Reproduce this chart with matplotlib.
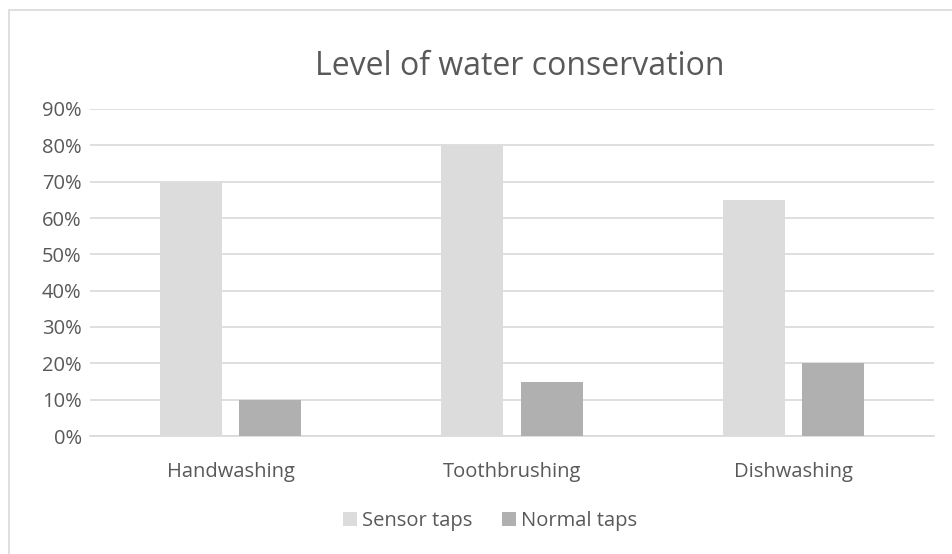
import matplotlib
matplotlib.use("Agg")
import matplotlib.pyplot as plt
from matplotlib.patches import Rectangle
from matplotlib.ticker import PercentFormatter
import numpy as np

categories = ["Handwashing", "Toothbrushing", "Dishwashing"]
sensor_taps = [0.70, 0.80, 0.65]
normal_taps = [0.10, 0.15, 0.20]
y_ticks = [0.0, 0.1, 0.2, 0.3, 0.4, 0.5, 0.6, 0.7, 0.8, 0.9]

plt.rcParams['font.family'] = ['Open Sans', 'DejaVu Sans']
text_color = '#595959'
grid_color = '#D9D9D9'

fig = plt.figure(figsize=(9.52, 5.54), dpi=100)
fig.patch.set_facecolor('white')

# outer chart frame
fig.add_artist(Rectangle((9 / 952, -0.02), 1.1, (554 - 10) / 554 + 0.02,
                         transform=fig.transFigure, fill=False,
                         edgecolor='#D9D9D9', linewidth=1.2))

ax = fig.add_axes([90 / 952, 118 / 554, (934 - 90) / 952, (445 - 118) / 554])

x = np.arange(len(categories))
width = 0.22
offset = 0.141
ax.bar(x - offset, sensor_taps, width, color='#DCDCDC', label='Sensor taps', zorder=3)
ax.bar(x + offset, normal_taps, width, color='#B0B0B0', label='Normal taps', zorder=3)

ax.set_xlim(-0.5, len(categories) - 0.5)
ax.set_ylim(0, 0.9)
ax.set_yticks(y_ticks)
ax.yaxis.set_major_formatter(PercentFormatter(1.0, decimals=0))
ax.set_xticks(x)
ax.set_xticklabels(categories)

ax.grid(axis='y', color=grid_color, linewidth=1.2, zorder=0)
for side in ['top', 'right', 'left']:
    ax.spines[side].set_visible(False)
ax.spines['bottom'].set_color(grid_color)
ax.spines['bottom'].set_linewidth(1.2)
ax.tick_params(axis='both', length=0, labelsize=14.5, colors=text_color)
ax.tick_params(axis='x', pad=19)
ax.tick_params(axis='y', pad=6)

fig.text(520 / 952, 1 - 75 / 554, "Level of water conservation",
         ha='center', va='baseline', fontsize=23, color=text_color)

fig.legend(loc='center', bbox_to_anchor=(490 / 952, 1 - 521 / 554),
           ncol=2, frameon=False, fontsize=14.5, labelcolor=text_color,
           handlelength=0.7, handleheight=0.7, handletextpad=0.25,
           columnspacing=1.5)

fig.savefig("out.png", dpi=100, facecolor='white')
